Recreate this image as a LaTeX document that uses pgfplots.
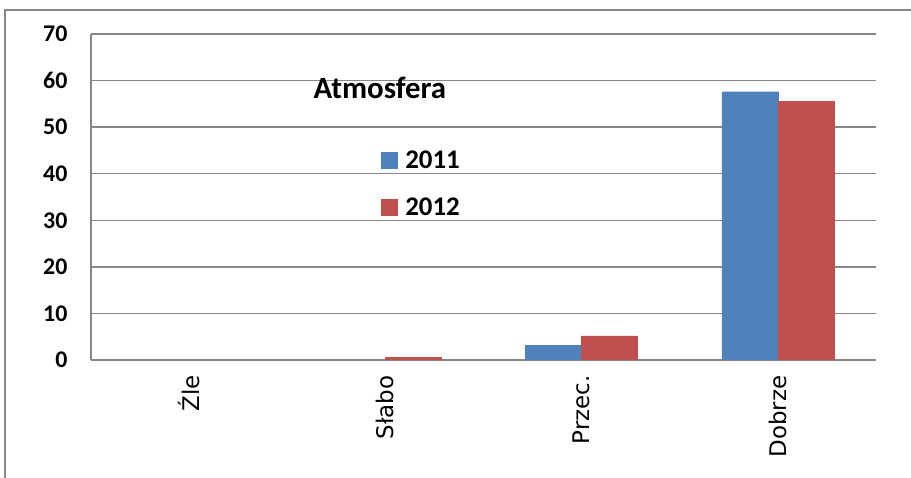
\documentclass[border=0pt]{standalone}
\usepackage{pgfplots}
\pgfplotsset{compat=1.18}
\usepackage{fontspec}
\setmainfont{Carlito}
\newfontfamily\dvs{DejaVu Sans}
\definecolor{sblue}{HTML}{4F81BD}
\definecolor{sred}{HTML}{C0504D}
\definecolor{gridg}{HTML}{878787}
\begin{document}
\begin{tikzpicture}
\path[use as bounding box] (0,0) rectangle (911bp,478bp);
\draw[gridg, line width=1.2bp] (5bp,0) -- (5bp,468bp) -- (911bp,468bp);
\begin{axis}[
  at={(91bp,118bp)}, anchor=south west,
  scale only axis, width=785bp, height=326bp,
  xmin=-0.5, xmax=3.5, ymin=0, ymax=70,
  ytick={0,10,...,70},
  xtick={0,1,2,3},
  xticklabels={Źle,Słabo,Przec.,Dobrze},
  axis x line*=bottom, axis y line*=left,
  axis line style={gridg, line width=1.5bp, -},
  ymajorgrids, grid style={gridg, line width=1.5bp},
  major tick length=0pt,
  tick style={draw=none},
  ybar=0pt, bar width=56bp,
  /pgf/number format/assume math mode=true,
  yticklabel style={font=\fontsize{24}{26}\selectfont\bfseries, xshift=-20bp},
  xticklabel style={font=\dvs\fontsize{23}{25}\selectfont, rotate=90, anchor=east, xshift=-12bp},
  legend style={at={(rel axis cs:0.369,0.648)}, anchor=north west, draw=none, fill=none,
     font=\fontsize{27}{29}\selectfont\bfseries, row sep=24bp, inner sep=0pt,
     /tikz/every odd column/.append style={column sep=6bp}},
  legend image code/.code={\fill[#1] (0bp,-8bp) rectangle (16bp,8bp);},
  legend cell align=left,
]
\addplot[fill=sblue, draw=sblue] coordinates {(0,0) (1,0) (2,3.1) (3,57.6)};
\addplot[fill=sred, draw=sred] coordinates {(0,0) (1,0.5) (2,5.2) (3,55.6)};
\legend{2011,2012}
\node[font=\fontsize{31}{33}\selectfont\bfseries] at (rel axis cs:0.368,0.834) {Atmosfera};
\end{axis}
\end{tikzpicture}
\end{document}
